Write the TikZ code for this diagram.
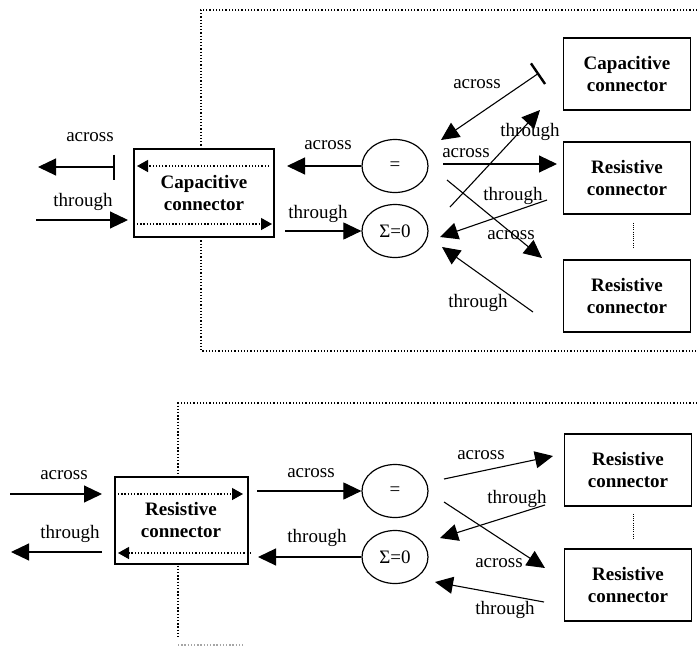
\documentclass[tikz,border=0pt]{standalone}
\usepackage{fontspec}
\setmainfont{Liberation Serif}
\usepackage{tikz}
\usetikzlibrary{arrows.meta,positioning,calc,shapes.geometric}
\tikzset{
  cbox/.style={draw, line width=1.7pt, fill=white, align=center, font=\bfseries\fontsize{19}{22}\selectfont, minimum width=127pt, minimum height=72pt, inner sep=2pt},
  opnode/.style={draw, ellipse, line width=1.2pt, fill=white, font=\fontsize{19}{22}\selectfont, minimum width=66pt, minimum height=53pt, inner sep=0pt},
  line/.style={-{Triangle[length=18pt,width=17pt]}, line width=1.1pt},
  barline/.style={{Bar[width=25pt,line width=2.4pt]}-{Triangle[length=18pt,width=17pt]}, line width=1.1pt},
  dotline/.style={line width=1.3pt, dash pattern=on 1.3pt off 1.9pt},
  dotarrow/.style={dotline, -{Triangle[length=11pt,width=12pt]}},
  thindots/.style={line width=0.8pt, dash pattern=on 0.8pt off 1.4pt},
  lbl/.style={inner sep=0pt, font=\fontsize{19}{22}\selectfont}
}

\begin{document}
\begin{tikzpicture}[x=1pt, y=-1pt]
  \useasboundingbox (0,0) rectangle (697,646);

  % dotted frames
  \draw[dotline] (697,10) -- (201,10) -- (201,351) -- (697,351);
  \draw[dotline] (697,403) -- (178,403) -- (178,638);
  \draw[dotline, black!35] (178,645) -- (245,645);

  % ---------- upper part ----------
  \node[cbox, line width=2pt, minimum width=140pt, minimum height=88pt] (capL) at (204,193) {Capacitive\\connector};
  \node[opnode] (eqT) at (395,166) {=};
  \node[opnode] (sumT) at (395,231) {Σ=0};
  \node[cbox] (capR) at (627,74) {Capacitive\\connector};
  \node[cbox] (resR1) at (627,178) {Resistive\\connector};
  \node[cbox] (resR2) at (627,296) {Resistive\\connector};

  \coordinate (ta1) at (115,167);
  \coordinate (ta2) at (38,167);
  \coordinate (tt1) at (36,220);
  \coordinate (tt2) at (128,220);
  \coordinate (tma) at (287,166);
  \coordinate (tmt) at (285,231);
  \coordinate (tia1) at (269,166);
  \coordinate (tia2) at (137,166);
  \coordinate (tit1) at (137,224);
  \coordinate (tit2) at (272,224);
  \coordinate (r1a) at (539,73);
  \coordinate (r1b) at (441,140);
  \coordinate (r2a) at (450,207);
  \coordinate (r2b) at (540,110);
  \coordinate (r3a) at (443,164);
  \coordinate (r3b) at (557,164);
  \coordinate (r4a) at (547,200);
  \coordinate (r4b) at (440,237);
  \coordinate (r5a) at (447,180);
  \coordinate (r5b) at (542,258);
  \coordinate (r6a) at (533,312);
  \coordinate (r6b) at (442,247);

  \draw[barline] (ta1) -- (ta2);
  \draw[line] (tt1) -- (tt2);
  \draw[dotarrow] (tia1) -- (tia2);
  \draw[dotarrow] (tit1) -- (tit2);
  \draw[line] (eqT.west) -- (tma);
  \draw[line] (tmt) -- (sumT.west);
  \draw[barline] (r1a) -- (r1b);
  \draw[line] (r2a) -- (r2b);
  \draw[line] (r3a) -- (r3b);
  \draw[line] (r4a) -- (r4b);
  \draw[line] (r5a) -- (r5b);
  \draw[line] (r6a) -- (r6b);
  \draw[thindots, shorten <=8pt, shorten >=12pt] ([xshift=6pt]resR1.south) -- ([xshift=6pt]resR2.north);

  \node[lbl] (lta1) at (90,137) {across};
  \node[lbl] (ltt1) at (83,202) {through};
  \node[lbl] (lta2) at (328,145) {across};
  \node[lbl] (ltt2) at (318,214) {through};
  \node[lbl] (lr1) at (477,84) {across};
  \node[lbl] (lr2) at (530,132) {through};
  \node[lbl] (lr3) at (466,153) {across};
  \node[lbl] (lr4) at (513,196) {through};
  \node[lbl] (lr5) at (511,235) {across};
  \node[lbl] (lr6) at (478,303) {through};

  % ---------- lower part ----------
  \node[cbox, line width=2pt, minimum width=133pt, minimum height=87pt] (resL) at (181,520) {Resistive\\connector};
  \node[opnode] (eqB) at (395,491) {=};
  \node[opnode] (sumB) at (395,557) {Σ=0};
  \node[cbox] (resR3) at (628,470) {Resistive\\connector};
  \node[cbox] (resR4) at (628,585) {Resistive\\connector};

  \coordinate (ba1) at (10,494);
  \coordinate (ba2) at (102,494);
  \coordinate (bt1) at (102,552);
  \coordinate (bt2) at (11,552);
  \coordinate (bia1) at (118,494);
  \coordinate (bia2) at (243,494);
  \coordinate (bit1) at (251,553);
  \coordinate (bit2) at (118,553);
  \coordinate (bma) at (257,491);
  \coordinate (bmt) at (258,557);
  \coordinate (s1a) at (444,479);
  \coordinate (s1b) at (553,456);
  \coordinate (s2a) at (545,505);
  \coordinate (s2b) at (440,538);
  \coordinate (s3a) at (444,502);
  \coordinate (s3b) at (545,568);
  \coordinate (s4a) at (544,602);
  \coordinate (s4b) at (435,582);

  \draw[line] (ba1) -- (ba2);
  \draw[line] (bt1) -- (bt2);
  \draw[dotarrow] (bia1) -- (bia2);
  \draw[dotarrow] (bit1) -- (bit2);
  \draw[line] (bma) -- (eqB.west);
  \draw[line] (sumB.west) -- (bmt);
  \draw[line] (s1a) -- (s1b);
  \draw[line] (s2a) -- (s2b);
  \draw[line] (s3a) -- (s3b);
  \draw[line] (s4a) -- (s4b);
  \draw[thindots, shorten <=7pt, shorten >=9pt] ([xshift=5pt]resR3.south) -- ([xshift=5pt]resR4.north);

  \node[lbl] (lba1) at (64,475) {across};
  \node[lbl] (lbt1) at (70,534) {through};
  \node[lbl] (lba2) at (311,473) {across};
  \node[lbl] (lbt2) at (317,538) {through};
  \node[lbl] (ls1) at (481,455) {across};
  \node[lbl] (ls2) at (517,499) {through};
  \node[lbl] (ls3) at (499,563) {across};
  \node[lbl] (ls4) at (505,610) {through};
\end{tikzpicture}
\end{document}
